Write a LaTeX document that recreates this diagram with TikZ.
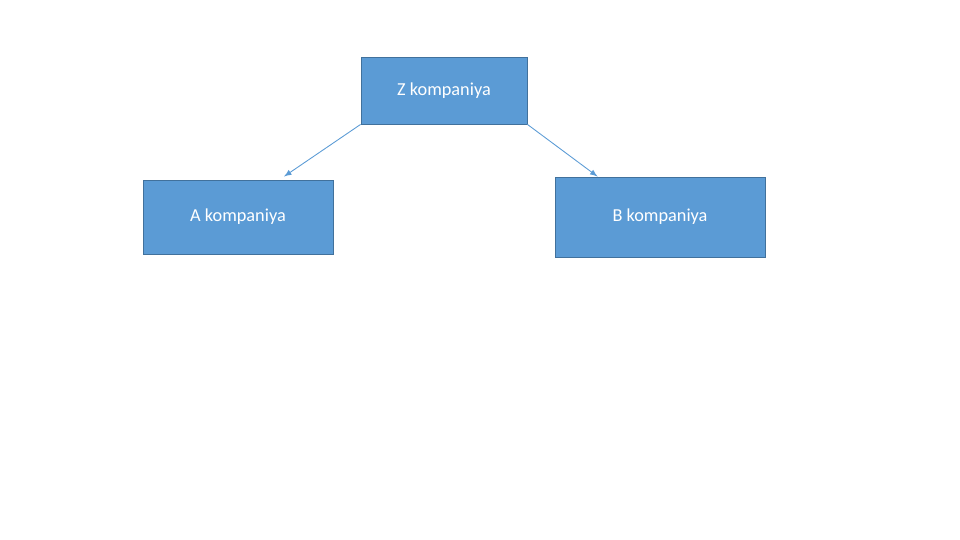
\documentclass[tikz,border=0pt]{standalone}
\usepackage{fontspec}
\setmainfont{Carlito}
\usetikzlibrary{arrows,calc}
\definecolor{boxfill}{HTML}{5B9BD5}
\definecolor{boxline}{HTML}{41719C}
\begin{document}
\begin{tikzpicture}[scale=1.0,
  firm/.style={draw=boxline,fill=boxfill,line width=0.5pt,text=white,font=\fontsize{10.4}{12}\selectfont,inner sep=0pt},
  link/.style={draw=boxfill,line width=0.5pt,-latex}]
\useasboundingbox (0,0) rectangle (19.2,10.8);
\node[firm,minimum width=3.32cm,minimum height=1.34cm] (Z) at (8.88,8.99) {Z kompaniya};
\node[firm,minimum width=3.8cm,minimum height=1.48cm] (A) at (4.76,6.46) {A kompaniya};
\node[firm,minimum width=4.2cm,minimum height=1.6cm] (B) at (13.2,6.46) {B kompaniya};
\coordinate (ta) at ($(A.north)+(0.92,0.06)$);
\coordinate (tb) at ($(B.north west)+(0.86,0)$);
\draw[link] (Z.south west) -- (ta);
\draw[link] (Z.south east) -- (tb);
\end{tikzpicture}
\end{document}
